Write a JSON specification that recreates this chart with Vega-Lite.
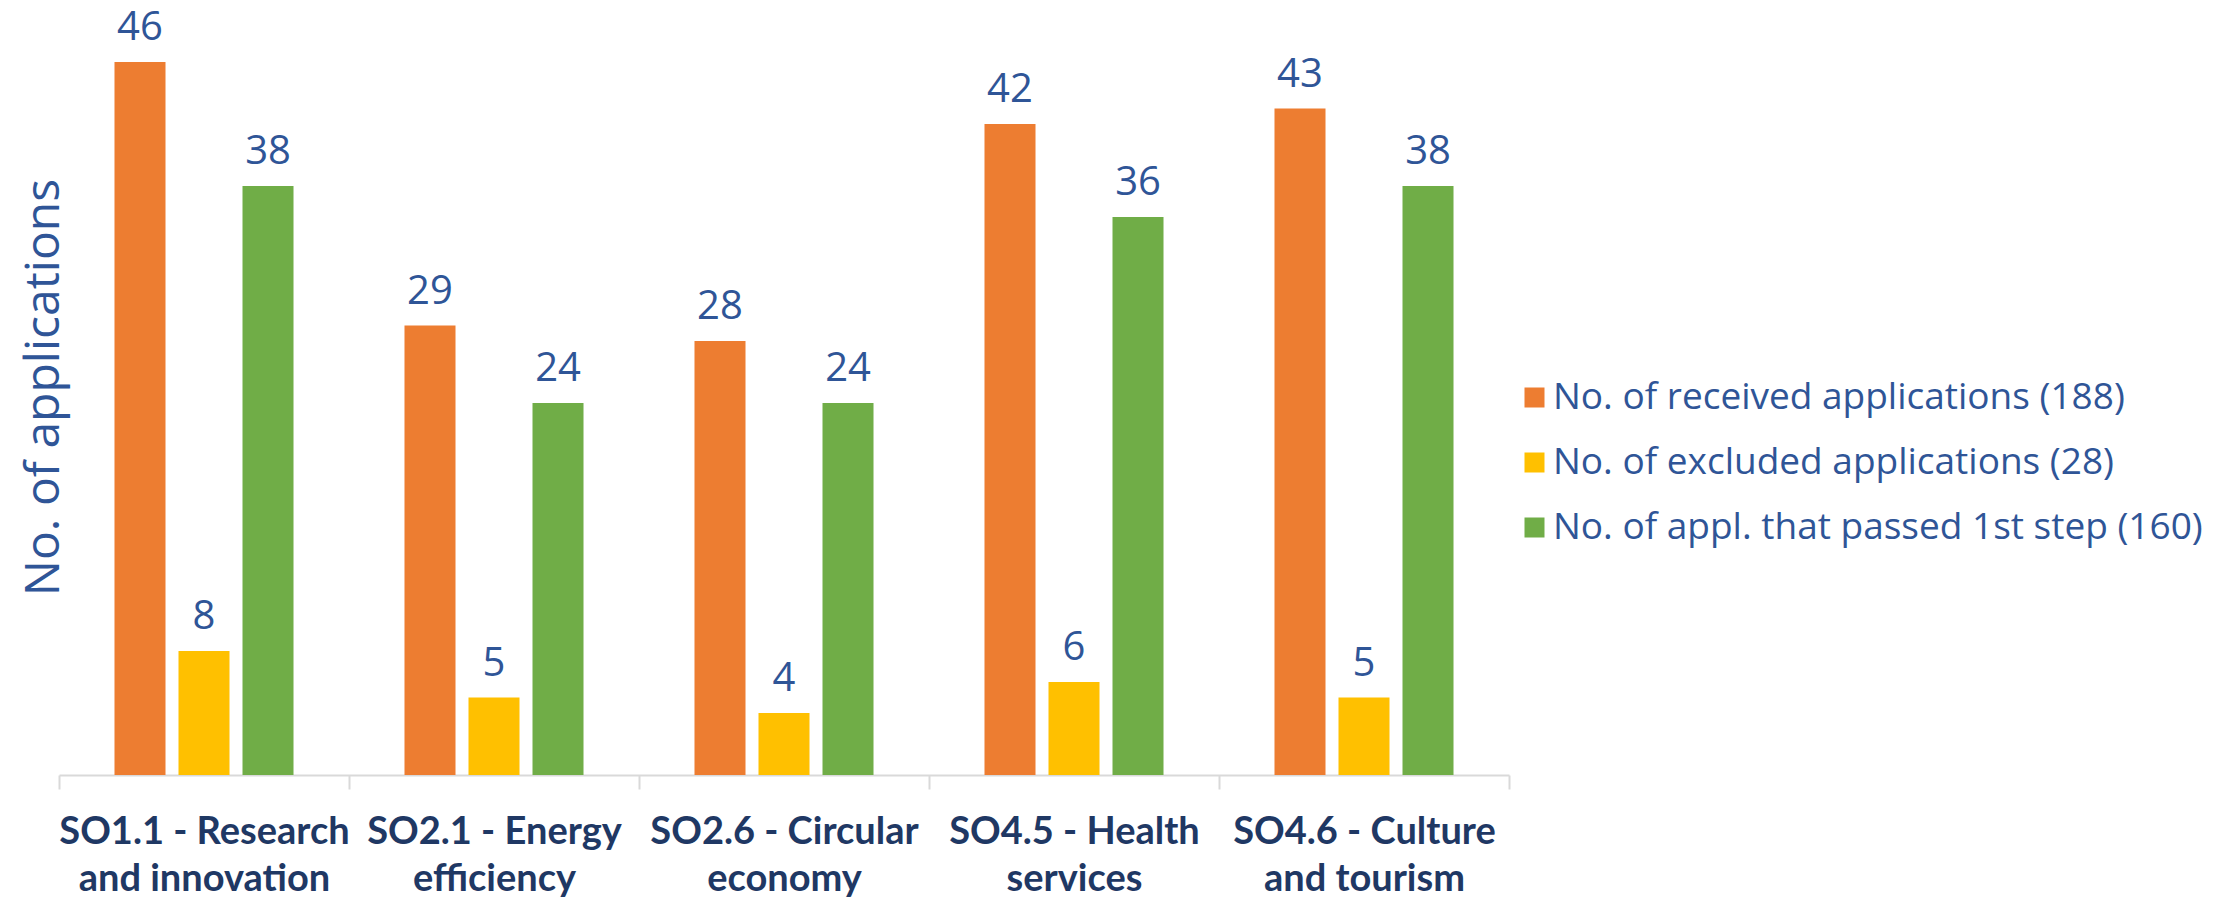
{
  "$schema": "https://vega.github.io/schema/vega-lite/v6.json",
  "width": 1450,
  "height": 775,
  "autosize": {"type": "none"},
  "padding": {"left": 59, "top": 0, "right": 712, "bottom": 127},
  "background": "white",
  "config": {"view": {"stroke": null}, "font": "Open Sans"},
  "data": {
    "values": [
      {"category": "SO1.1 - Research and innovation", "series": "No. of received applications (188)", "value": 46},
      {"category": "SO1.1 - Research and innovation", "series": "No. of excluded applications (28)", "value": 8},
      {"category": "SO1.1 - Research and innovation", "series": "No. of appl. that passed 1st step (160)", "value": 38},
      {"category": "SO2.1 - Energy efficiency", "series": "No. of received applications (188)", "value": 29},
      {"category": "SO2.1 - Energy efficiency", "series": "No. of excluded applications (28)", "value": 5},
      {"category": "SO2.1 - Energy efficiency", "series": "No. of appl. that passed 1st step (160)", "value": 24},
      {"category": "SO2.6 - Circular economy", "series": "No. of received applications (188)", "value": 28},
      {"category": "SO2.6 - Circular economy", "series": "No. of excluded applications (28)", "value": 4},
      {"category": "SO2.6 - Circular economy", "series": "No. of appl. that passed 1st step (160)", "value": 24},
      {"category": "SO4.5 - Health services", "series": "No. of received applications (188)", "value": 42},
      {"category": "SO4.5 - Health services", "series": "No. of excluded applications (28)", "value": 6},
      {"category": "SO4.5 - Health services", "series": "No. of appl. that passed 1st step (160)", "value": 36},
      {"category": "SO4.6 - Culture and tourism", "series": "No. of received applications (188)", "value": 43},
      {"category": "SO4.6 - Culture and tourism", "series": "No. of excluded applications (28)", "value": 5},
      {"category": "SO4.6 - Culture and tourism", "series": "No. of appl. that passed 1st step (160)", "value": 38}
    ]
  },
  "encoding": {
    "x": {
      "field": "category",
      "type": "nominal",
      "sort": null,
      "scale": {"paddingInner": 0, "paddingOuter": 0},
      "axis": {
        "title": null,
        "labelExpr": "isString(datum.value) ? [join(slice(split(datum.value,' '),0,3),' '), join(slice(split(datum.value,' '),3),' ')] : ''",
        "labelAngle": 0,
        "labelFont": "Lato",
        "labelFontWeight": "bold",
        "labelFontSize": 38,
        "labelColor": "#1F3864",
        "labelLineHeight": 47,
        "labelPadding": 24,
        "labelLimit": 500,
        "labelOverlap": false,
        "labelBound": false,
        "tickSize": 14,
        "tickColor": "#D9D9D9",
        "tickWidth": 2,
        "tickBand": "extent",
        "domainColor": "#D9D9D9",
        "domainWidth": 2,
        "grid": false
      }
    },
    "xOffset": {
      "field": "series",
      "type": "nominal",
      "sort": null,
      "scale": {"paddingInner": 0.203, "paddingOuter": 0.867}
    },
    "y": {
      "field": "value",
      "type": "quantitative",
      "scale": {"domain": [0, 50]},
      "axis": {
        "title": "No. of applications",
        "labels": false,
        "ticks": false,
        "domain": false,
        "grid": false,
        "titleFont": "Open Sans",
        "titleFontSize": 48,
        "titleFontWeight": "normal",
        "titleColor": "#2F5597",
        "titleX": 9,
        "titleY": 387,
        "titleBaseline": "bottom"
      }
    }
  },
  "layer": [
    {
      "mark": {"type": "bar"},
      "encoding": {
        "color": {
          "field": "series",
          "type": "nominal",
          "sort": null,
          "scale": {
            "domain": ["No. of received applications (188)", "No. of excluded applications (28)", "No. of appl. that passed 1st step (160)"],
            "range": ["#ED7D31", "#FFC000", "#70AD47"]
          },
          "legend": {
            "title": null,
            "orient": "none",
            "legendX": 1457,
            "legendY": 379,
            "symbolType": "square",
            "symbolSize": 400,
            "symbolStrokeWidth": 0,
            "labelFont": "Open Sans",
            "labelFontSize": 37,
            "labelColor": "#2F5597",
            "labelOffset": 0,
            "labelLimit": 800,
            "rowPadding": 27,
            "padding": 0
          }
        }
      }
    },
    {
      "mark": {"type": "text", "baseline": "alphabetic", "dy": -22, "fontSize": 40, "font": "Open Sans", "color": "#2F5597"},
      "encoding": {"text": {"field": "value", "type": "quantitative"}}
    }
  ]
}
